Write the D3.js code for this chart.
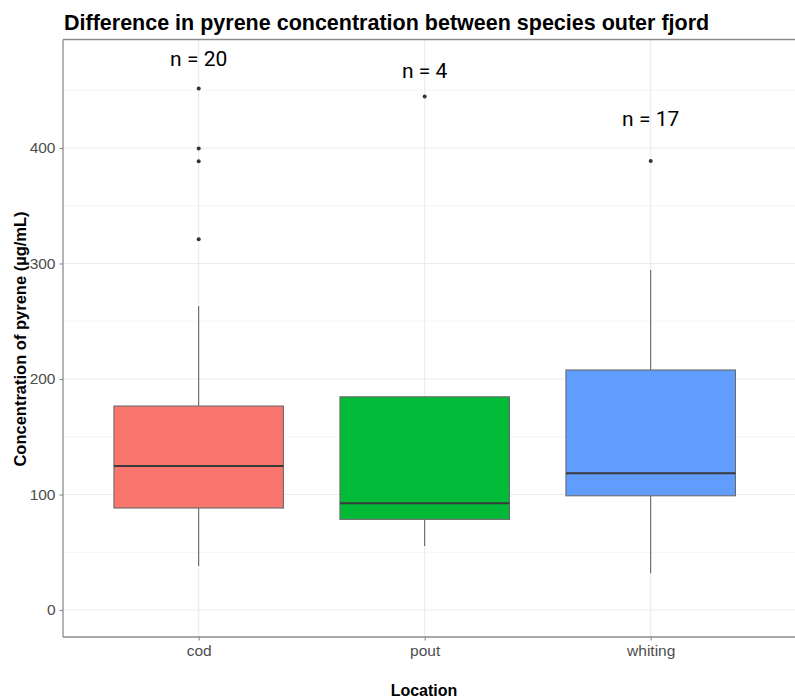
<!DOCTYPE html>
<html>
<head>
<meta charset="utf-8">
<script src="https://cdn.jsdelivr.net/npm/d3@7/dist/d3.min.js"></script>
<style>
  html, body { margin: 0; padding: 0; background: #ffffff; }
  svg { display: block; }
</style>
</head>
<body>
<svg id="chart" width="795" height="698"></svg>
<script>
// Species and their box-plot summaries (µg/mL)
const species = ["cod", "pout", "whiting"];
const q1 = [88.3, 78.5, 98.9];
const median = [124.7, 92.4, 118.3];
const q3 = [176.6, 184.6, 207.8];
const whiskerLow = [38.0, 55.4, 31.7];
const whiskerHigh = [263.2, 184.6, 294.4];
const outliers = [[451.5, 399.5, 388.5, 321.0], [444.5], [388.7]];
const fills = ["#F8766D", "#00BA38", "#619CFF"];

// Sample-size labels and where they sit on the value axis
const countLabels = ["n = 20", "n = 4", "n = 17"];
const countY = [477.3, 467.1, 425.4];

const yTicks = [0, 100, 200, 300, 400];
const yMinor = [50, 150, 250, 350, 450];

const svg = d3.select("#chart");
const panel = { left: 63, top: 39.5, right: 800, bottom: 637 };

const y = d3.scaleLinear().domain([-22.5, 493.5]).range([636, 40]);
// categories sit on a continuous index scale so the panel padding is 0.6 of a step
const xi = d3.scaleLinear().domain([-0.6, 2.6]).range([63.1, 786.3]);
const step = xi(1) - xi(0);
const boxW = step * 0.75;

const g = svg.append("g");

// grid
g.selectAll("line.minor").data(yMinor).join("line")
  .attr("x1", panel.left).attr("x2", panel.right)
  .attr("y1", d => y(d)).attr("y2", d => y(d))
  .attr("stroke", "#f2f2f2").attr("stroke-width", 0.8);
g.selectAll("line.major").data(yTicks).join("line")
  .attr("x1", panel.left).attr("x2", panel.right)
  .attr("y1", d => y(d)).attr("y2", d => y(d))
  .attr("stroke", "#ebebeb").attr("stroke-width", 1.1);
g.selectAll("line.vmajor").data(species).join("line")
  .attr("x1", (d, i) => xi(i)).attr("x2", (d, i) => xi(i))
  .attr("y1", panel.top).attr("y2", panel.bottom)
  .attr("stroke", "#ebebeb").attr("stroke-width", 1.1);

// boxes
const box = g.selectAll("g.box").data(species).join("g").attr("class", "box");
box.append("line")
  .attr("x1", (d, i) => xi(i)).attr("x2", (d, i) => xi(i))
  .attr("y1", (d, i) => y(whiskerHigh[i])).attr("y2", (d, i) => y(q3[i]))
  .attr("stroke", "#595959").attr("stroke-width", 1);
box.append("line")
  .attr("x1", (d, i) => xi(i)).attr("x2", (d, i) => xi(i))
  .attr("y1", (d, i) => y(q1[i])).attr("y2", (d, i) => y(whiskerLow[i]))
  .attr("stroke", "#595959").attr("stroke-width", 1);
box.append("rect")
  .attr("x", (d, i) => xi(i) - boxW / 2)
  .attr("width", boxW)
  .attr("y", (d, i) => y(q3[i]))
  .attr("height", (d, i) => y(q1[i]) - y(q3[i]))
  .attr("fill", (d, i) => fills[i])
  .attr("stroke", "#6b6b6b").attr("stroke-width", 1.1);
box.append("line")
  .attr("x1", (d, i) => xi(i) - boxW / 2).attr("x2", (d, i) => xi(i) + boxW / 2)
  .attr("y1", (d, i) => y(median[i])).attr("y2", (d, i) => y(median[i]))
  .attr("stroke", "#3a3a3a").attr("stroke-width", 2);
box.each(function (d, i) {
  d3.select(this).selectAll("circle").data(outliers[i]).join("circle")
    .attr("cx", xi(i)).attr("cy", v => y(v)).attr("r", 2)
    .attr("fill", "#333333");
});

// sample-size labels
g.selectAll("text.count").data(countLabels).join("text")
  .attr("x", (d, i) => xi(i)).attr("y", (d, i) => y(countY[i]))
  .attr("dy", "0.35em").attr("text-anchor", "middle")
  .attr("font-family", "Roboto, 'Liberation Sans', sans-serif")
  .attr("font-size", 21).attr("fill", "#000")
  .text(d => d);

// panel border (top, left, bottom)
const border = "#8c8c8c";
g.append("line").attr("x1", panel.left).attr("x2", panel.right).attr("y1", panel.top).attr("y2", panel.top)
  .attr("stroke", border).attr("stroke-width", 1.3);
g.append("line").attr("x1", panel.left).attr("x2", panel.right).attr("y1", panel.bottom).attr("y2", panel.bottom)
  .attr("stroke", border).attr("stroke-width", 1.3);
g.append("line").attr("x1", panel.left).attr("x2", panel.left).attr("y1", panel.top).attr("y2", panel.bottom)
  .attr("stroke", border).attr("stroke-width", 1.3);

// y axis
const yAxis = g.append("g").attr("transform", `translate(${panel.left},0)`)
  .call(d3.axisLeft(y).tickValues(yTicks).tickSize(3.5).tickPadding(4));
yAxis.select(".domain").remove();
yAxis.selectAll(".tick line").attr("stroke", border).attr("stroke-width", 1.1);
yAxis.selectAll(".tick text").attr("font-family", "'Liberation Sans', Arial, sans-serif")
  .attr("font-size", 15.5).attr("fill", "#4d4d4d");

// x axis
const xAxis = g.append("g").attr("transform", `translate(0,${panel.bottom})`)
  .call(d3.axisBottom(xi).tickValues([0, 1, 2]).tickFormat(i => species[i]).tickSize(3.5).tickPadding(4));
xAxis.select(".domain").remove();
xAxis.selectAll(".tick line").attr("stroke", border).attr("stroke-width", 1.1);
xAxis.selectAll(".tick text").attr("font-family", "'Liberation Sans', Arial, sans-serif")
  .attr("font-size", 15.5).attr("fill", "#4d4d4d");

// titles
svg.append("text").attr("x", 64).attr("y", 30)
  .attr("font-family", "'Liberation Sans', Arial, sans-serif").attr("font-weight", "bold")
  .attr("font-size", 21.5).attr("fill", "#000")
  .text("Difference in pyrene concentration between species outer fjord");
svg.append("text").attr("x", 424).attr("y", 696)
  .attr("text-anchor", "middle")
  .attr("font-family", "'Liberation Sans', Arial, sans-serif").attr("font-weight", "bold")
  .attr("font-size", 16).attr("fill", "#000")
  .text("Location");
svg.append("text")
  .attr("transform", `translate(26,339) rotate(-90)`)
  .attr("text-anchor", "middle")
  .attr("font-family", "'Liberation Sans', Arial, sans-serif").attr("font-weight", "bold")
  .attr("font-size", 16.5).attr("fill", "#000")
  .text("Concentration of pyrene (µg/mL)");
</script>
</body>
</html>
